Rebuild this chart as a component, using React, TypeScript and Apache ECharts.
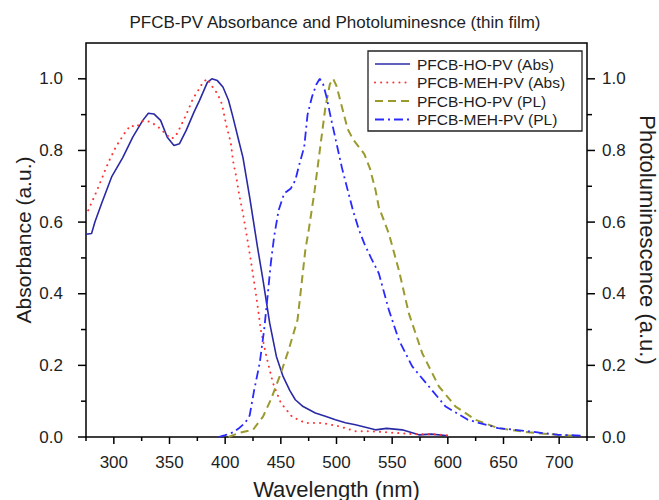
import React, { useEffect, useRef } from "react";
import * as echarts from "echarts";

const absHoX = [275, 280, 283, 289, 298, 308, 317, 326, 331, 336, 342, 348, 354, 359, 365, 372, 377, 384, 388, 393, 398, 403, 407, 412, 416, 422, 429, 434, 440, 446, 452, 458, 463, 470, 481, 490, 499, 508, 517, 526, 535, 545, 559, 574, 585, 598, 600];
const absHoY = [0.566, 0.568, 0.6, 0.652, 0.726, 0.78, 0.837, 0.884, 0.904, 0.902, 0.884, 0.837, 0.814, 0.819, 0.856, 0.907, 0.94, 0.99, 1.0, 0.995, 0.977, 0.94, 0.893, 0.83, 0.78, 0.67, 0.531, 0.438, 0.318, 0.225, 0.169, 0.13, 0.104, 0.085, 0.067, 0.058, 0.048, 0.04, 0.034, 0.027, 0.02, 0.024, 0.02, 0.006, 0.008, 0.004, 0.003];

const absMehX = [277, 283, 289, 295, 302, 310, 315, 320, 326, 332, 339, 345, 351, 355, 359, 365, 371, 376, 380, 384, 388, 392, 396, 398, 401, 405, 407, 410, 413, 416, 419, 423, 428, 432, 437, 443, 450, 460, 472, 487, 502, 517, 532, 550, 570, 585, 600];
const absMehY = [0.633, 0.675, 0.72, 0.766, 0.811, 0.85, 0.87, 0.865, 0.882, 0.881, 0.868, 0.851, 0.833, 0.837, 0.861, 0.9, 0.944, 0.969, 0.99, 1.0, 0.98, 0.963, 0.94, 0.916, 0.87, 0.823, 0.772, 0.726, 0.67, 0.624, 0.57, 0.494, 0.392, 0.299, 0.225, 0.15, 0.095, 0.057, 0.039, 0.039, 0.03, 0.016, 0.016, 0.012, 0.008, 0.008, 0.005];

const plHoX = [403, 413, 425, 434, 441, 450, 457, 465, 469, 472, 475, 480, 485, 490, 494, 497, 500, 505, 510, 515, 520, 525, 530, 535, 538, 547, 556, 565, 577, 592, 607, 625, 645, 672, 699, 714];
const plHoY = [0, 0.012, 0.02, 0.057, 0.104, 0.178, 0.243, 0.327, 0.438, 0.522, 0.577, 0.68, 0.8, 0.92, 0.985, 1.0, 0.98, 0.92, 0.86, 0.83, 0.81, 0.79, 0.75, 0.69, 0.642, 0.568, 0.466, 0.345, 0.234, 0.141, 0.085, 0.048, 0.025, 0.013, 0.006, 0.003];

const plMehX = [394, 400, 407, 413, 418, 422, 426, 431, 435, 438, 441, 444, 448, 453, 459, 463, 466, 471, 474, 478, 482, 485, 488, 491, 495, 500, 505, 510, 515, 520, 525, 531, 538, 547, 556, 568, 583, 598, 618, 645, 672, 699, 720];
const plMehY = [0, 0.005, 0.013, 0.026, 0.04, 0.06, 0.13, 0.206, 0.299, 0.39, 0.485, 0.56, 0.633, 0.68, 0.694, 0.717, 0.754, 0.81, 0.9, 0.95, 0.985, 1.0, 0.985, 0.95, 0.89, 0.82, 0.75, 0.69, 0.63, 0.58, 0.54, 0.5, 0.457, 0.355, 0.271, 0.197, 0.141, 0.085, 0.048, 0.025, 0.016, 0.006, 0.004];

const seriesNames = ["PFCB-HO-PV (Abs)", "PFCB-MEH-PV (Abs)", "PFCB-HO-PV (PL)", "PFCB-MEH-PV (PL)"];
const seriesColors = ["#2a2aa6", "#ff3535", "#9a9a2e", "#2a2aff"];
const seriesDash: (number[] | null)[] = [null, [0.1, 6], [8, 5], [9, 4, 2, 4]];
const seriesWidths = [1.6, 2, 2, 1.8];

// tick label positions (every 25 nm / every 0.1), majors are labelled
const xTickLabels = ["275", "300", "325", "350", "375", "400", "425", "450", "475", "500", "525", "550", "575", "600", "625", "650", "675", "700", "725"];
const yTickLabels = ["0.0", "0.1", "0.2", "0.3", "0.4", "0.5", "0.6", "0.7", "0.8", "0.9", "1.0", "1.1"];

const X_MIN = 275;
const X_MAX = 725;
const Y_MIN = 0;
const Y_MAX = 1.1;

const FONT = "Liberation Sans, Arial, sans-serif";
const TEXT = "#1e1e1e";

function pairs(xs: number[], ys: number[]) {
  return xs.map((x, i) => [x, ys[i]]);
}

const xMajor = (i: number) => Number(xTickLabels[i]) % 50 === 0;
const yMajor = (i: number) => i % 2 === 0 && i <= 10;
const yMinor = (i: number) => i % 2 === 1 && i <= 9;

export default function App() {
  const ref = useRef<HTMLDivElement>(null);
  useEffect(() => {
    if (!ref.current) return;
    const chart = echarts.init(ref.current, undefined, { renderer: "svg" });
    const labelStyle = { fontSize: 17, color: TEXT, fontFamily: FONT };
    const nameStyle = { color: TEXT, fontFamily: FONT };
    const catX = (major: boolean) => ({
      type: "category",
      position: "bottom",
      boundaryGap: false,
      data: xTickLabels,
      axisLine: { show: false },
      axisTick: { show: false },
      axisLabel: major
        ? { show: true, margin: 17, interval: (i: number) => xMajor(i), ...labelStyle }
        : { show: false },
    });
    const catY = (pos: string) => ({
      type: "category",
      position: pos,
      boundaryGap: false,
      data: yTickLabels,
      axisLine: { show: false },
      axisTick: { show: false },
      axisLabel: { show: true, margin: pos === "left" ? 23 : 15, interval: (i: number) => yMajor(i), ...labelStyle },
    });
    const legendRows = [64, 82.5, 101, 119.5];
    const legendElements: any[] = [
      {
        type: "rect",
        shape: { x: 368, y: 51, width: 214, height: 80 },
        style: { fill: "#fff", stroke: "#222", lineWidth: 1.3 },
        z: 10,
      },
    ];
    seriesNames.forEach((name, i) => {
      legendElements.push({
        type: "line",
        shape: { x1: 375, y1: legendRows[i], x2: 410, y2: legendRows[i] },
        style: {
          stroke: seriesColors[i],
          lineWidth: seriesWidths[i],
          lineDash: seriesDash[i] || undefined,
          lineCap: i === 1 ? "round" : "butt",
        },
        z: 11,
      });
      legendElements.push({
        type: "text",
        x: 417,
        y: legendRows[i],
        style: { text: name, fill: TEXT, font: `15.5px ${FONT}`, textVerticalAlign: "middle", verticalAlign: "middle" },
        z: 11,
      });
    });

    chart.setOption({
      animation: false,
      title: {
        text: "PFCB-PV Absorbance and Photoluminesnce (thin film)",
        left: 330,
        textAlign: "center",
        top: 9,
        textStyle: { fontSize: 17, fontWeight: "normal", color: TEXT, fontFamily: FONT },
      },
      grid: {
        left: 86,
        right: 72,
        top: 43,
        bottom: 63,
        containLabel: false,
        outerBoundsMode: "none",
        show: true,
        borderColor: "#000",
        borderWidth: 1.5,
      },
      graphic: legendElements,
      xAxis: [
        { type: "value", min: X_MIN, max: X_MAX, show: false },
        {
          ...catX(true),
          name: "Wavelength (nm)",
          nameLocation: "middle",
          nameGap: 41,
          nameMoveOverlap: false,
          nameTextStyle: { ...nameStyle, fontSize: 22 },
        },
      ],
      yAxis: [
        { type: "value", min: Y_MIN, max: Y_MAX, show: false },
        { type: "value", min: Y_MIN, max: Y_MAX, show: false },
        {
          ...catY("left"),
          name: "Absorbance (a.u.)",
          nameLocation: "middle",
          nameGap: 52,
          nameMoveOverlap: false,
          nameTextStyle: { ...nameStyle, fontSize: 21 },
        },
        {
          ...catY("right"),
          name: "Photoluminescence (a.u.)",
          nameLocation: "middle",
          nameRotate: -90,
          nameGap: 49,
          nameMoveOverlap: false,
          nameTextStyle: { ...nameStyle, fontSize: 22 },
        },
      ],
      series: [
        { x: absHoX, y: absHoY, axis: 0 },
        { x: absMehX, y: absMehY, axis: 0 },
        { x: plHoX, y: plHoY, axis: 1 },
        { x: plMehX, y: plMehY, axis: 1 },
      ].map((s, i) => ({
        name: seriesNames[i],
        type: "line",
        xAxisIndex: 0,
        yAxisIndex: s.axis,
        symbol: "none",
        data: pairs(s.x, s.y),
        itemStyle: { color: seriesColors[i] },
        lineStyle: {
          color: seriesColors[i],
          width: seriesWidths[i],
          type: seriesDash[i] || "solid",
          cap: i === 1 ? "round" : "butt",
        },
      })),
    });

    // axis ticks, positioned through the chart's own scales
    const tickStyle = { stroke: "#000", lineWidth: 1.5 };
    const tickEls: any[] = [];
    const yBase = chart.convertToPixel({ yAxisIndex: 0 }, Y_MIN) as number;
    const xLeft = chart.convertToPixel({ xAxisIndex: 0 }, X_MIN) as number;
    const xRight = chart.convertToPixel({ xAxisIndex: 0 }, X_MAX) as number;
    xTickLabels.forEach((lab, i) => {
      const px = chart.convertToPixel({ xAxisIndex: 0 }, Number(lab)) as number;
      const len = xMajor(i) ? 7 : 4;
      tickEls.push({ type: "line", shape: { x1: px, y1: yBase, x2: px, y2: yBase + len }, style: tickStyle, z: 5 });
    });
    yTickLabels.forEach((lab, i) => {
      if (!yMajor(i) && !yMinor(i)) return;
      const py = chart.convertToPixel({ yAxisIndex: 0 }, Number(lab)) as number;
      const len = yMajor(i) ? 8 : 5;
      tickEls.push({ type: "line", shape: { x1: xLeft - len, y1: py, x2: xLeft, y2: py }, style: tickStyle, z: 5 });
      tickEls.push({ type: "line", shape: { x1: xRight, y1: py, x2: xRight + len, y2: py }, style: tickStyle, z: 5 });
    });
    chart.setOption({ graphic: [...legendElements, ...tickEls] });

    return () => chart.dispose();
  }, []);
  return <div ref={ref} style={{ position: "fixed", left: 0, top: 0, width: 659, height: 500, background: "#fff" }} />;
}
